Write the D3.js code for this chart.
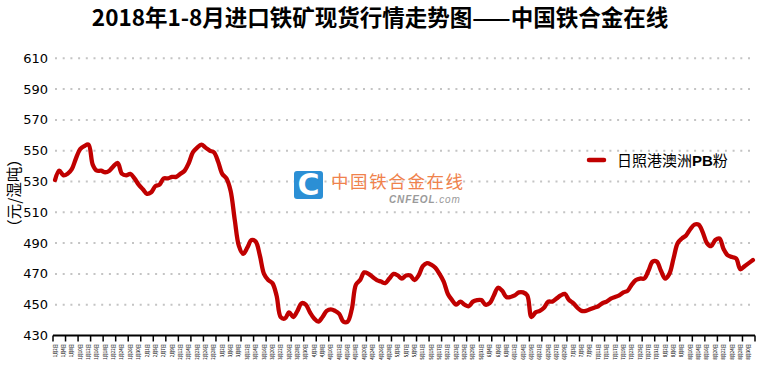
<!DOCTYPE html>
<html><head><meta charset="utf-8">
<script src="https://cdn.jsdelivr.net/npm/d3@7/dist/d3.min.js"></script>
<style>body{margin:0;background:#fff;} svg{display:block;}</style>
</head><body>
<svg id="chart" width="760" height="372"></svg>
<script>
const title = "2018年1-8月进口铁矿现货行情走势图——中国铁合金在线";
const seriesName = "日照港澳洲PB粉";
const yAxisLabel = "（元/湿吨）";
const yTicks = [430, 450, 470, 490, 510, 530, 550, 570, 590, 610];

// trading days by month
const janDays = [2,3,4,5,8,9,10,11,12,15,16,17,18,19,22,23,24,25,26,29,30,31];
const febDays = [1,2,5,6,7,8,9,11,12,13,14,22,23,24,26,27,28];
const marDays = [1,2,5,6,7,8,9,12,13,14,15,16,19,20,21,22,23,26,27,28,29,30];
const aprDays = [2,3,4,8,9,10,11,12,13,16,17,18,19,20,23,24,25,26,27,28];
const mayDays = [2,3,4,7,8,9,10,11,14,15,16,17,18,21,22,23,24,25,28,29,30,31];
const junDays = [1,4,5,6,7,8,11,12,13,14,15,19,20,21,22,25,26,27,28,29];
const julDays = [2,3,4,5,6,9,10,11,12,13,16,17,18,19,20,23,24,25,26,27,30,31];
const augDays = [1,2,3,6,7,8,9,10,13,14,15,16,17,20,21,22,23,24,27,28,29,30,31];

const categories = [janDays, febDays, marDays, aprDays, mayDays, junDays, julDays, augDays]
  .flatMap((days, m) => days.map(d => `${m + 1}月${d}日`));

// 日照港澳洲PB粉 (元/湿吨)
const pbValues = [
  531,537,534,535,538,545,551,553,554,541,537,537,536,537,540,542,535,534,535,532,
  528,525,522,523,527,528,532,532,533,533,535,537,542,549,552,554,552,550,549,543,
  535,532,524,505,488,483,487,492,491,482,470,466,464,456,442,441,445,442,446,451,
  450,445,441,439,442,446,447,446,444,439,439,447,463,466,471,470,468,466,465,464,
  467,470,469,467,469,469,466,469,475,477,476,474,470,465,457,453,450,452,450,449,
  452,453,453,450,451,456,461,459,455,455,456,458,458,456,442,445,446,448,452,452,
  454,456,457,453,451,448,446,446,447,448,449,451,452,454,455,456,458,459,463,466,
  467,467,472,478,478,472,467,470,480,490,493,495,499,502,502,497,490,488,492,493,
  486,482,481,480,473,475,477,479
];

const svg = d3.select("#chart");
const x0 = 53, x1 = 755;
const yTop = 58.3, yBot = 335.5;

const x = d3.scaleBand().domain(d3.range(categories.length)).range([x0, x1]).paddingInner(0).paddingOuter(0);
const y = d3.scaleLinear().domain([430, 610]).range([yBot, yTop]);
const cx = i => x(i) + x.bandwidth() / 2;

// title
svg.append("text")
  .attr("x", 380).attr("y", 26)
  .attr("text-anchor", "middle")
  .attr("font-family", "'Noto Sans CJK SC', sans-serif")
  .attr("font-weight", "bold")
  .attr("font-size", 22.5)
  .attr("fill", "#000")
  .text(title);

// gridlines (dotted)
svg.append("g").selectAll("line")
  .data(yTicks.filter(t => t > 430))
  .join("line")
  .attr("x1", x0 + 2).attr("x2", x1)
  .attr("y1", d => y(d)).attr("y2", d => y(d))
  .attr("stroke", "#c4c4c4")
  .attr("stroke-width", 2)
  .attr("stroke-dasharray", "2,5.7");

// y tick labels
svg.append("g").selectAll("text")
  .data(yTicks)
  .join("text")
  .attr("x", 48).attr("y", d => y(d) + 4.5)
  .attr("text-anchor", "end")
  .attr("font-family", "Verdana, 'DejaVu Sans', sans-serif")
  .attr("font-size", 13)
  .attr("fill", "#000")
  .text(d => d);

// y axis label
svg.append("text")
  .attr("transform", "translate(19.5,193) rotate(-90)")
  .attr("text-anchor", "middle")
  .attr("font-family", "'Noto Sans CJK SC', sans-serif")
  .attr("font-size", 15.5)
  .attr("fill", "#000")
  .text(yAxisLabel);

// watermark
const wm = svg.append("g");
wm.append("rect")
  .attr("x", 294).attr("y", 171).attr("width", 29).attr("height", 28)
  .attr("rx", 3).attr("fill", "#2b8fd5");
wm.append("text")
  .attr("x", 308.5).attr("y", 195)
  .attr("text-anchor", "middle")
  .attr("font-family", "'DejaVu Sans', sans-serif")
  .attr("font-weight", "bold")
  .attr("font-size", 30)
  .attr("fill", "#fff")
  .text("C");
wm.append("text")
  .attr("x", 331).attr("y", 187.5)
  .attr("font-family", "'Noto Sans CJK SC', sans-serif")
  .attr("font-size", 17.5)
  .attr("letter-spacing", 1.6)
  .attr("fill", "#f0824c")
  .text("中国铁合金在线");
const wt = wm.append("text")
  .attr("x", 389).attr("y", 202.5)
  .attr("font-family", "Arial, 'Liberation Sans', sans-serif")
  .attr("font-style", "italic")
  .attr("font-size", 10)
  .attr("letter-spacing", 0.9)
  .attr("fill", "#9a9a9a");
wt.append("tspan").attr("font-weight", "bold").text("CNFEOL");
wt.append("tspan").text(".com");

// x axis
const ax = svg.append("g");
ax.append("line")
  .attr("x1", x0).attr("x2", x1)
  .attr("y1", yBot).attr("y2", yBot)
  .attr("stroke", "#000").attr("stroke-width", 2);
const tickIdx = d3.range(0, categories.length + 1, 3);
ax.selectAll("line.tk")
  .data(tickIdx)
  .join("line")
  .attr("class", "tk")
  .attr("x1", d => d < categories.length ? x(d) : x1)
  .attr("x2", d => d < categories.length ? x(d) : x1)
  .attr("y1", yBot).attr("y2", yBot + 6)
  .attr("stroke", "#000").attr("stroke-width", 1.5);
ax.selectAll("text")
  .data(d3.range(0, categories.length, 2))
  .join("text")
  .attr("transform", d => `translate(${cx(d) + 1.5},344) rotate(-90)`)
  .attr("text-anchor", "end")
  .attr("font-family", "'Noto Sans CJK SC', sans-serif")
  .attr("font-weight", "bold")
  .attr("font-size", 4.2)
  .attr("fill", "#333")
  .text(d => categories[d]);

// series line
const line = d3.line()
  .x((d, i) => cx(i))
  .y(d => y(d))
  .curve(d3.curveCatmullRom.alpha(0.5));
svg.append("path")
  .datum(pbValues)
  .attr("d", line)
  .attr("fill", "none")
  .attr("stroke", "#c00000")
  .attr("stroke-width", 4.3)
  .attr("stroke-linejoin", "round")
  .attr("stroke-linecap", "round");

// legend
svg.append("line")
  .attr("x1", 589).attr("x2", 604)
  .attr("y1", 160).attr("y2", 160)
  .attr("stroke", "#c00000").attr("stroke-width", 4.5)
  .attr("stroke-linecap", "round");
const lt = svg.append("text")
  .attr("x", 617).attr("y", 166)
  .attr("font-family", "'Noto Sans CJK SC', sans-serif")
  .attr("font-size", 15)
  .attr("fill", "#000");
lt.append("tspan").text("日照港澳洲");
lt.append("tspan").attr("font-weight", "bold").attr("font-family", "Arial, 'Liberation Sans', sans-serif").text("PB");
lt.append("tspan").text("粉");
</script>
</body></html>
